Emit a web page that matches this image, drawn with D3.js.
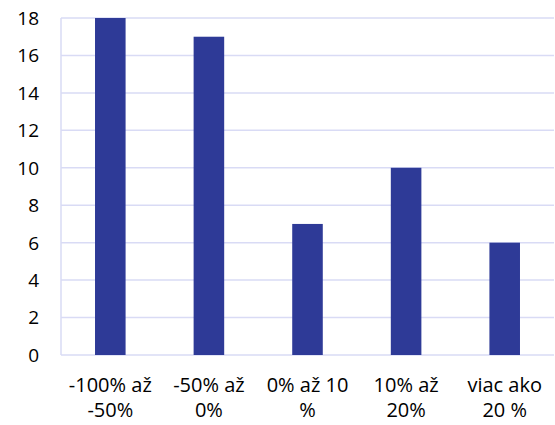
<!DOCTYPE html>
<html><head><meta charset="utf-8">
<script src="https://cdn.jsdelivr.net/npm/d3@7"></script>
<style>body{margin:0;background:#fff}svg{display:block}</style>
</head><body>
<script>
const categories = [["-100% až","-50%"],["-50% až","0%"],["0% až 10","%"],["10% až","20%"],["viac ako","20 %"]];
const values = [18, 17, 7, 10, 6];
const yTicks = [0, 2, 4, 6, 8, 10, 12, 14, 16, 18];

const W = 555, H = 425;
const m = {left: 61, right: 1, top: 18, bottom: 70};
const svg = d3.select("body").append("svg").attr("width", W).attr("height", H);
const font = "'Open Sans', sans-serif";
const fs = 20;

const x = d3.scaleBand().domain(d3.range(values.length)).range([m.left, W - m.right]).paddingInner(0.69).paddingOuter(0.345);
const y = d3.scaleLinear().domain([0, 18]).range([H - m.bottom, m.top]);

const grid = "#D9DBF5";
svg.append("g").selectAll("line").data(yTicks).join("line")
  .attr("x1", m.left).attr("x2", W - m.right)
  .attr("y1", d => y(d)).attr("y2", d => y(d))
  .attr("stroke", grid).attr("stroke-width", 1.5);
svg.append("line").attr("x1", m.left).attr("x2", m.left)
  .attr("y1", y(0)).attr("y2", y(18)).attr("stroke", grid).attr("stroke-width", 1.5);

svg.append("g").selectAll("rect").data(values).join("rect")
  .attr("x", (d, i) => x(i)).attr("width", x.bandwidth())
  .attr("y", d => y(d)).attr("height", d => y(0) - y(d))
  .attr("fill", "#2E3A97");

svg.append("g").selectAll("text").data(yTicks).join("text")
  .attr("x", 39).attr("y", d => y(d)).attr("dy", "0.36em")
  .attr("text-anchor", "end").attr("font-family", font).attr("font-size", fs - 1).attr("fill", "#000")
  .text(d => d);

const xb = d3.scaleBand().domain(d3.range(values.length)).range([m.left, W - m.right]);
const lab = svg.append("g").selectAll("text").data(categories).join("text")
  .attr("x", (d, i) => xb(i) + xb.bandwidth() / 2)
  .attr("text-anchor", "middle").attr("font-family", font).attr("font-size", fs).attr("fill", "#000");
lab.selectAll("tspan").data(d => d).join("tspan")
  .attr("x", function() { return this.parentNode.getAttribute("x"); })
  .attr("y", (d, j) => 392 + j * 25)
  .text(d => d);
</script>
</body></html>
